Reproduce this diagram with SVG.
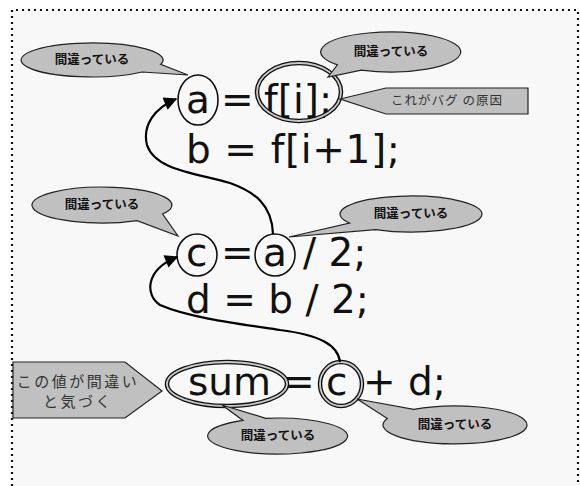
<svg xmlns="http://www.w3.org/2000/svg" width="580" height="486" viewBox="0 0 580 486">
<defs>
<style>
.code{font-family:"DejaVu Sans","Liberation Sans",sans-serif;font-size:39px;fill:#111}
.bub{fill:#c0c0c0;stroke:#222;stroke-width:1.2}
.bt{font-family:"Noto Sans CJK JP","DejaVu Sans",sans-serif;font-size:12.5px;font-weight:bold;fill:#111;text-anchor:middle}
.nt{font-family:"Noto Sans CJK JP","DejaVu Sans",sans-serif;fill:#333;text-anchor:middle}
.ring{fill:none;stroke:#111;stroke-width:1.6}
.dbl1{fill:none;stroke:#111;stroke-width:4.5}
.dbl2{fill:none;stroke:#c8c8c8;stroke-width:1.8}
.conn{fill:none;stroke:#000;stroke-width:2.2}
</style>
<marker id="ah" viewBox="0 0 10 10" refX="9" refY="5" markerWidth="6.5" markerHeight="6" orient="auto" markerUnits="strokeWidth">
<path d="M0,0 L10,5 L0,10 z" fill="#000"/>
</marker>
</defs>
<rect x="0" y="0" width="580" height="486" fill="#fff"/>
<rect x="12" y="10" width="566" height="480" fill="#f8f8f8"/>
<path d="M12,486 L12,10 L578,10 L578,486" fill="none" stroke="#111" stroke-width="2.2" stroke-dasharray="2 4"/>

<g id="code">
<text class="code" x="186" y="113">a</text>
<text class="code" x="221" y="113">=</text>
<text class="code" x="264" y="113">f[i];</text>
<text class="code" x="186" y="163" letter-spacing="0.6">b = f[i+1];</text>
<text class="code" x="186" y="266">c</text>
<text class="code" x="221" y="266">=</text>
<text class="code" x="263" y="266">a</text>
<text class="code" x="303" y="266">/ 2;</text>
<text class="code" x="186" y="313">d = b / 2;</text>
<text class="code" x="188" y="395">sum</text>
<text class="code" x="282" y="395">=</text>
<text class="code" x="326" y="395">c</text>
<text class="code" x="363" y="395">+ d;</text>
</g>

<g id="marks">
<ellipse class="ring" cx="198" cy="100" rx="20" ry="25"/>
<ellipse class="ring" cx="197" cy="255" rx="20" ry="21"/>
<ellipse class="ring" cx="275" cy="255" rx="20" ry="21"/>
<ellipse class="dbl1" cx="299" cy="92" rx="42" ry="29"/>
<ellipse class="dbl2" cx="299" cy="92" rx="42" ry="29"/>
<ellipse class="dbl1" cx="227" cy="384" rx="60" ry="22"/>
<ellipse class="dbl2" cx="227" cy="384" rx="60" ry="22"/>
<ellipse class="dbl1" cx="341" cy="384" rx="21" ry="22"/>
<ellipse class="dbl2" cx="341" cy="384" rx="21" ry="22"/>
</g>

<g id="connectors">
<path class="conn" marker-end="url(#ah)" d="M273,234 C272,205 255,192 230,183 C195,173 155,170 147,145 C142,125 155,108 176,99"/>
<path class="conn" marker-end="url(#ah)" d="M340,362 C338,345 320,335 280,330 C240,324 190,318 160,305 C145,295 145,270 177,257"/>
</g>

<g id="c1">
<path class="bub" d="M142.2,72 A71,17 0 1 1 160.6,64.4 L188,75 Z"/>
<text class="bt" x="92" y="64">間違っている</text>
</g>
<g id="c2">
<path class="bub" d="M337.4,64.9 A70,20 0 1 1 361.4,70.1 L328,77 Z"/>
<text class="bt" x="391" y="56">間違っている</text>
</g>
<g id="c3">
<polygon class="bub" points="340,99 386,88 528,88 528,114 386,114"/>
<text class="nt" x="447" y="105" font-size="12.5" letter-spacing="1">これがバグ の原因</text>
</g>
<g id="c4">
<path class="bub" d="M137,220.6 A70,18 0 1 1 162.6,214 L178,236 Z"/>
<text class="bt" x="102" y="209">間違っている</text>
</g>
<g id="c5">
<path class="bub" d="M349.5,223 A71,18 0 1 1 375.5,229.6 L289,237 Z"/>
<text class="bt" x="411" y="218">間違っている</text>
</g>
<g id="c6">
<polygon class="bub" points="13,362 125,362 162,391 125,418 13,418"/>
<text class="nt" x="78" y="387" font-size="15" letter-spacing="2.5">この値が間違い</text>
<text class="nt" x="78" y="407" font-size="15" letter-spacing="2.5">と気づく</text>
</g>
<g id="c7">
<path class="bub" d="M265.8,418.3 A70,18 0 1 1 243,420.4 L222,405 Z"/>
<text class="bt" x="278" y="440">間違っている</text>
</g>
<g id="c8">
<path class="bub" d="M413.7,409.4 A72,19 0 1 1 387.3,418.5 L357,399 Z"/>
<text class="bt" x="455" y="429">間違っている</text>
</g>
</svg>
